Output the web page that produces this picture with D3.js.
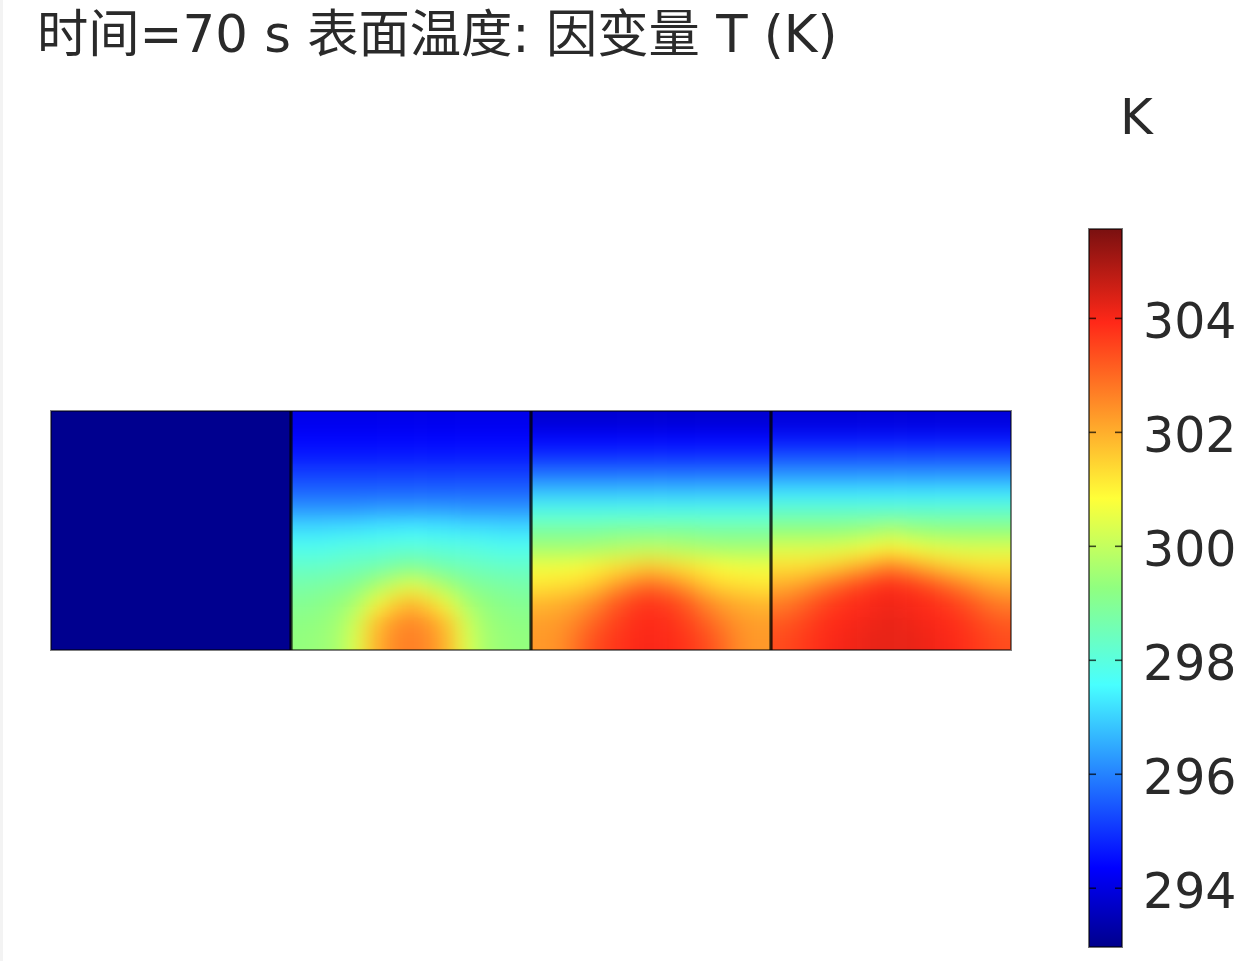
<!DOCTYPE html>
<html><head><meta charset="utf-8">
<script src="https://cdn.jsdelivr.net/npm/d3@7"></script>
<style>html,body{margin:0;padding:0;background:#fff;overflow:hidden}svg{display:block}
text{font-family:"DejaVu Sans","Noto Sans CJK SC",sans-serif;fill:#2a2a2a}</style></head>
<body><svg id="c" width="1260" height="961"></svg>
<script>
const titleText = "时间=70 s 表面温度: 因变量 T (K)";
const unitLabel = "K";
const tickValues = [294, 296, 298, 300, 302, 304];
const tempDomain = [292.96, 305.56];
const jetStops = [[0,"#00008c"],[0.11,"#0000ff"],[0.365,"#48ffff"],[0.5,"#90ff80"],[0.625,"#ffff38"],[0.87,"#ff2818"],[1,"#7a1010"]];

const panel1 = [[293.0]];
const panel2 = [
[294.1,294.1,294.1,294.1,294.1,294.1,294.1,294.1,294.1,294.1,294.1,294.1,294.1],
[294.4,294.4,294.4,294.4,294.4,294.4,294.4,294.4,294.4,294.4,294.4,294.4,294.4],
[294.7,294.7,294.7,294.7,294.7,294.7,294.7,294.7,294.7,294.7,294.7,294.7,294.7],
[295.2,295.2,295.2,295.2,295.2,295.2,295.2,295.2,295.2,295.2,295.2,295.2,295.2],
[295.7,295.7,295.7,295.7,295.7,295.7,295.7,295.7,295.7,295.7,295.7,295.7,295.7],
[296.4,296.4,296.4,296.4,296.5,296.5,296.5,296.5,296.5,296.4,296.4,296.4,296.4],
[297.2,297.2,297.3,297.3,297.4,297.4,297.5,297.4,297.4,297.3,297.3,297.2,297.2],
[297.8,297.8,297.9,298.0,298.0,298.1,298.1,298.1,298.0,298.0,297.9,297.8,297.8],
[298.3,298.3,298.4,298.5,298.6,298.8,299.0,298.8,298.6,298.5,298.4,298.3,298.3],
[298.7,298.8,298.9,299.1,299.6,300.1,300.5,300.1,299.6,299.1,298.9,298.8,298.7],
[299.0,299.1,299.3,299.7,300.6,301.4,301.9,301.4,300.6,299.7,299.3,299.1,299.0],
[299.2,299.3,299.5,300.2,301.6,302.3,302.6,302.3,301.6,300.2,299.5,299.3,299.2],
[299.3,299.4,299.6,300.4,301.8,302.5,302.7,302.5,301.8,300.4,299.6,299.4,299.3]];
const panel3 = [
[293.8,293.8,293.8,293.8,293.8,293.8,293.8,293.8,293.8,293.8,293.8,293.8,293.8],
[294.4,294.4,294.4,294.4,294.4,294.4,294.4,294.4,294.4,294.4,294.4,294.4,294.4],
[295.0,295.0,295.0,295.0,295.0,295.0,295.0,295.0,295.0,295.0,295.0,295.0,295.0],
[295.9,295.9,295.9,295.9,295.9,295.9,295.9,295.9,295.9,295.9,295.9,295.9,295.9],
[296.9,296.9,296.9,296.9,296.9,296.9,296.9,296.9,296.9,296.9,296.9,296.9,296.9],
[297.9,297.9,297.9,297.9,297.9,297.9,297.9,297.9,297.9,297.9,297.9,297.9,297.9],
[298.8,298.8,298.8,298.8,298.9,298.9,298.9,298.9,298.9,298.8,298.8,298.8,298.8],
[299.6,299.6,299.6,299.7,299.8,299.9,300.0,299.9,299.8,299.7,299.6,299.6,299.6],
[300.7,300.7,300.8,301.0,301.2,301.4,301.6,301.4,301.2,301.0,300.8,300.7,300.7],
[301.2,301.3,301.4,301.7,302.2,302.7,303.0,302.7,302.2,301.7,301.4,301.3,301.2],
[301.9,302.0,302.2,302.6,303.2,303.6,303.8,303.6,303.2,302.6,302.2,302.0,301.9],
[302.2,302.3,302.6,303.1,303.5,303.8,303.9,303.8,303.5,303.1,302.6,302.3,302.2],
[302.3,302.4,302.9,303.4,303.7,303.9,304.0,303.9,303.7,303.4,302.9,302.4,302.3]];
const panel4 = [
[293.9,293.9,293.9,293.9,293.9,293.9,293.9,293.9,293.9,293.9,293.9,293.9,293.9],
[294.6,294.6,294.6,294.6,294.6,294.6,294.6,294.6,294.6,294.6,294.6,294.6,294.6],
[295.4,295.4,295.4,295.4,295.4,295.4,295.4,295.4,295.4,295.4,295.4,295.4,295.4],
[296.3,296.3,296.3,296.3,296.3,296.3,296.3,296.3,296.3,296.3,296.3,296.3,296.3],
[297.3,297.3,297.3,297.3,297.3,297.3,297.3,297.3,297.3,297.3,297.3,297.3,297.3],
[298.3,298.3,298.3,298.3,298.3,298.3,298.3,298.3,298.3,298.3,298.3,298.3,298.3],
[299.3,299.3,299.3,299.3,299.4,299.5,299.8,299.5,299.4,299.3,299.3,299.3,299.3],
[300.4,300.4,300.4,300.5,300.6,300.8,301.0,300.8,300.6,300.5,300.4,300.4,300.4],
[301.3,301.3,301.4,301.6,301.9,302.3,302.7,302.3,301.9,301.6,301.4,301.3,301.3],
[302.0,302.2,302.6,303.0,303.4,303.7,303.9,303.7,303.4,303.0,302.6,302.2,302.0],
[302.7,303.0,303.4,303.7,303.9,304.0,304.1,304.0,303.9,303.7,303.4,303.0,302.7],
[303.2,303.4,303.7,303.9,304.0,304.1,304.2,304.1,304.0,303.9,303.7,303.4,303.2],
[303.4,303.6,303.8,304.0,304.1,304.2,304.2,304.2,304.1,304.0,303.8,303.6,303.4]];
const panels = [panel1, panel2, panel3, panel4];

const svg = d3.select("#c");
const defs = svg.append("defs");
const t = d3.scaleLinear().domain(tempDomain).range([0, 1]);
const colorRamp = d3.scaleLinear().domain(jetStops.map(d => d[0])).range(jetStops.map(d => d[1])).clamp(true);
const color = v => colorRamp(t(v));

// soft filters
defs.append("filter").attr("id","fieldBlur").attr("filterUnits","userSpaceOnUse")
  .attr("x",-100).attr("y",300).attr("width",1400).attr("height",500)
  .attr("color-interpolation-filters","sRGB")
  .append("feGaussianBlur").attr("stdDeviation",10);
defs.append("filter").attr("id","soft").attr("filterUnits","userSpaceOnUse")
  .attr("x",-1300).attr("y",-1000).attr("width",2700).attr("height",2100)
  .attr("color-interpolation-filters","sRGB")
  .append("feGaussianBlur").attr("stdDeviation",0.7);

svg.append("rect").attr("x",0).attr("y",0).attr("width",3).attr("height",961).attr("fill","#f3f3f3");

// title
svg.append("text").attr("x",37).attr("y",52).attr("font-size",51.3).attr("filter","url(#soft)").text(titleText);

// field
const px = d3.scaleBand().domain(d3.range(panels.length)).range([51, 1011]);
const py = d3.scaleLinear().domain([0, 1]).range([411, 650]);
const bleed = 40;
panels.forEach((grid, p) => {
  const clipId = "clip" + p;
  defs.append("clipPath").attr("id", clipId).append("rect")
    .attr("x", px(p)).attr("y", py(0)).attr("width", px.bandwidth()).attr("height", py(1) - py(0));
  const nr = grid.length, nc = grid[0].length;
  const cx = d3.scaleLinear().domain([0, nc]).range([px(p), px(p) + px.bandwidth()]);
  const cells = grid.flatMap((row, r) => row.map((v, c) => ({r, c, v})));
  const cy = d3.scaleLinear().domain([0, nr]).range([py(0), py(1)]);
  svg.append("g").attr("clip-path", `url(#${clipId})`)
    .append("g").attr("filter", "url(#fieldBlur)")
    .selectAll("rect").data(cells).join("rect")
    .attr("x", d => cx(d.c) - (d.c === 0 ? bleed : 0))
    .attr("y", d => cy(d.r) - (d.r === 0 ? bleed : 0))
    .attr("width", d => cx(d.c + 1) - cx(d.c) + (d.c === 0 ? bleed : 0) + (d.c === nc - 1 ? bleed : 0) + 0.5)
    .attr("height", d => cy(d.r + 1) - cy(d.r) + (d.r === 0 ? bleed : 0) + (d.r === nr - 1 ? bleed : 0) + 0.5)
    .attr("fill", d => color(d.v));
});
// separators and outline
svg.append("g").attr("filter","url(#soft)").selectAll("line").data(d3.range(1, panels.length)).join("line")
  .attr("x1", d => px(d)).attr("x2", d => px(d)).attr("y1", py(0)).attr("y2", py(1))
  .attr("stroke", "#000").attr("stroke-opacity", 0.8).attr("stroke-width", 3.2);
svg.append("rect").attr("x", px(0)).attr("y", py(0)).attr("width", px.bandwidth() * panels.length).attr("height", py(1) - py(0))
  .attr("fill","none").attr("stroke","#000").attr("stroke-opacity",0.5).attr("stroke-width",2).attr("filter","url(#soft)");

// colour bar
const barX = 1089, barW = 33;
const yBar = d3.scaleLinear().domain(tempDomain).range([947, 229]);
const grad = defs.append("linearGradient").attr("id","jet").attr("x1",0).attr("x2",0).attr("y1",1).attr("y2",0);
grad.selectAll("stop").data(jetStops).join("stop")
  .attr("offset", d => d[0]).attr("stop-color", d => d[1]);
svg.append("rect").attr("x",barX).attr("y",yBar(tempDomain[1])).attr("width",barW)
  .attr("height",yBar(tempDomain[0])-yBar(tempDomain[1])).attr("fill","url(#jet)")
  .attr("stroke","#000").attr("stroke-opacity",0.55).attr("stroke-width",2).attr("filter","url(#soft)");
const axisR = d3.axisRight(yBar).tickValues(tickValues).tickSizeOuter(0).tickSizeInner(-7).tickPadding(21).tickFormat(d3.format("d"));
const axisL = d3.axisLeft(yBar).tickValues(tickValues).tickSizeOuter(0).tickSizeInner(-7).tickFormat("");
const gR = svg.append("g").attr("transform",`translate(${barX+barW},0)`).call(axisR);
const gL = svg.append("g").attr("transform",`translate(${barX},0)`).call(axisL);
[gR,gL].forEach(g => { g.select(".domain").remove();
  g.selectAll("line").attr("stroke","#000").attr("stroke-opacity",0.7).attr("stroke-width",1.6).attr("filter","url(#soft)"); });
gR.selectAll("text").attr("font-size",49).attr("dy","0.41em").attr("font-family","'DejaVu Sans'").attr("fill","#2a2a2a").attr("filter","url(#soft)");
svg.append("text").attr("x",1120).attr("y",134).attr("font-size",50).attr("filter","url(#soft)").text(unitLabel);
</script></body></html>
